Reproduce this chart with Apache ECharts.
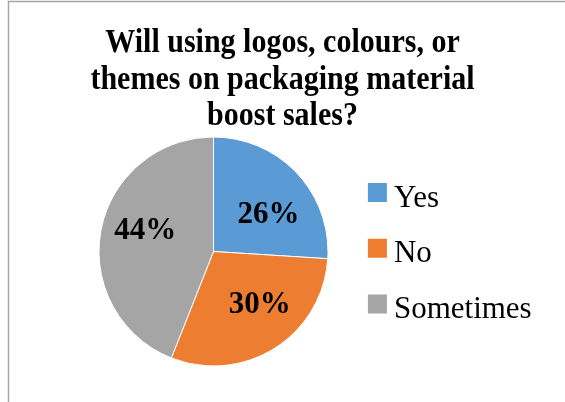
<!DOCTYPE html>
<html>
<head>
<meta charset="utf-8">
<script src="https://cdn.jsdelivr.net/npm/echarts@6/dist/echarts.min.js"></script>
<style>
  html, body { margin: 0; padding: 0; background: #fff; }
  #chart { width: 565px; height: 402px; }
</style>
</head>
<body>
<div id="chart"></div>
<script>
// Survey answers and their shares (%)
const categories = ['Yes', 'No', 'Sometimes'];
const shares = [26, 30, 44];
const sliceColors = ['#5B9BD5', '#ED7D31', '#A5A5A5'];
const titleText = 'Will using logos, colours, or\nthemes on packaging material\nboost sales?';

const serif = '"Liberation Serif", "Times New Roman", serif';

// nudges that push each percentage label a bit outward in its slice
const labelNudge = [[11, 5], [14, 3], [-9, -9]];

const chart = echarts.init(document.getElementById('chart'), null, { renderer: 'canvas' });

chart.setOption({
  animation: false,
  backgroundColor: '#fff',
  color: sliceColors,
  graphic: [
    {
      type: 'rect',
      shape: { x: 8.5, y: 1.5, width: 600, height: 450 },
      style: { fill: 'none', stroke: '#a6a6a6', lineWidth: 1.5 },
      silent: true
    },
    {
      // chart title, drawn slightly tall
      type: 'text',
      x: 282.5,
      y: 25.5,
      scaleY: 1.1,
      silent: true,
      style: {
        text: titleText,
        x: 0,
        y: 0,
        align: 'center',
        verticalAlign: 'top',
        font: 'bold 30px ' + serif,
        lineHeight: 33.2,
        fill: '#000'
      }
    }
  ],
  legend: {
    orient: 'vertical',
    left: 365.9,
    top: 171,
    padding: 0,
    icon: 'rect',
    itemWidth: 21,
    itemHeight: 21,
    itemGap: 12.75,
    data: categories,
    formatter: '{n|{name}}',
    textStyle: {
      color: '#000',
      rich: {
        // entry names sit a little below the colour keys
        n: {
          fontFamily: serif,
          fontSize: 31,
          lineHeight: 31,
          color: '#000',
          padding: [12, 0, 0, 1]
        }
      }
    }
  },
  series: [{
    type: 'pie',
    center: [213.5, 251.5],
    radius: 114.5,
    startAngle: 90,
    clockwise: true,
    avoidLabelOverlap: false,
    itemStyle: { borderColor: '#fff', borderWidth: 1 },
    label: {
      show: true,
      position: 'inside',
      formatter: '{c}%',
      fontFamily: serif,
      fontWeight: 'bold',
      fontSize: 31,
      color: '#000'
    },
    labelLine: { show: false },
    emphasis: { disabled: true },
    data: categories.map((name, i) => ({
      name: name,
      value: shares[i],
      label: { offset: labelNudge[i] }
    }))
  }]
});
</script>
</body>
</html>
